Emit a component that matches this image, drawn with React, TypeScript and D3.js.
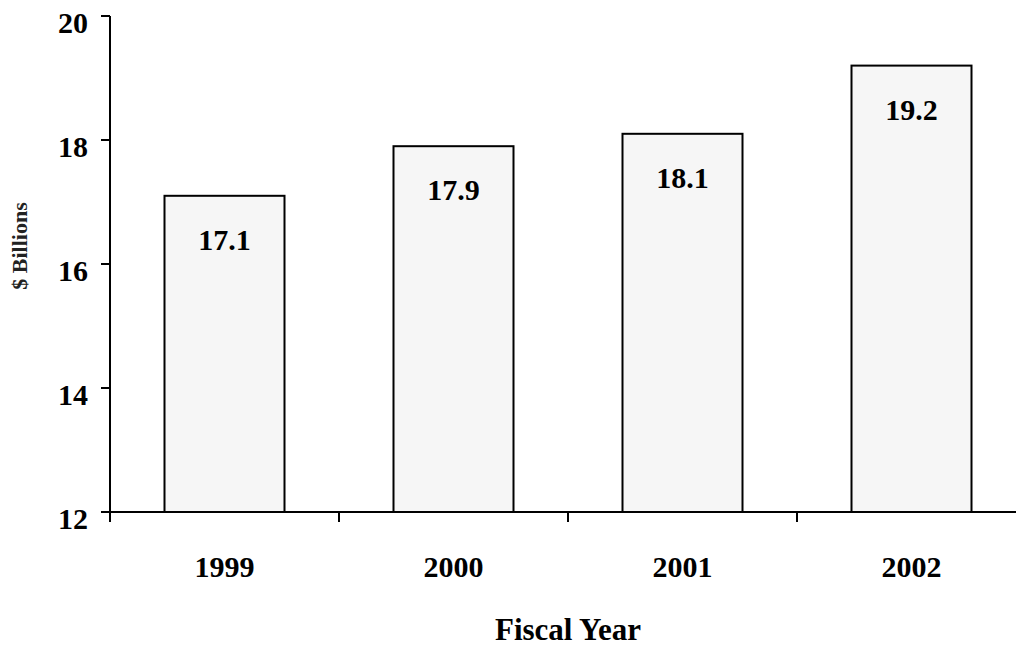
import React from "react";
import * as d3 from "d3";

const years = ["1999", "2000", "2001", "2002"];
const values = [17.1, 17.9, 18.1, 19.2];
const yTicks = [12, 14, 16, 18, 20];

const W = 1016;
const H = 645;
const left = 110;
const right = 1026;
const top = 16;
const bottom = 512;
const font = "'Liberation Serif', 'Times New Roman', serif";

export default function App() {
  const p = 1 - 120 / 229;
  const x = d3.scaleBand<string>().domain(years).range([left, right]).paddingInner(p).paddingOuter(p / 2);
  const step = x.step();
  const y = d3.scaleLinear().domain([12, 20]).range([bottom, top]);
  const tickXs = d3.range(years.length + 1).map((i) => left + i * step);

  return (
    <svg width={W} height={H} style={{ position: "absolute", left: 0, top: 0, background: "#fff" }}>
      {years.map((yr, i) => (
        <rect
          key={yr}
          x={x(yr)!}
          y={y(values[i])}
          width={x.bandwidth()}
          height={bottom - y(values[i])}
          fill="#f6f6f6"
          stroke="#000"
          strokeWidth={2}
        />
      ))}
      {years.map((yr, i) => (
        <text
          key={"v" + yr}
          x={x(yr)! + x.bandwidth() / 2}
          y={y(values[i]) + 54}
          textAnchor="middle"
          fontFamily={font}
          fontWeight="bold"
          fontSize={30}
          fill="#000"
        >
          {values[i].toFixed(1)}
        </text>
      ))}
      {/* y axis */}
      <line x1={left} x2={left} y1={top} y2={bottom} stroke="#000" strokeWidth={2} />
      {yTicks.map((t) => (
        <g key={"yt" + t}>
          <line x1={left - 9} x2={left} y1={y(t)} y2={y(t)} stroke="#000" strokeWidth={2} />
          <text
            x={88}
            y={y(t) + 17}
            textAnchor="end"
            fontFamily={font}
            fontWeight="bold"
            fontSize={30}
            fill="#000"
          >
            {t}
          </text>
        </g>
      ))}
      {/* x axis */}
      <line x1={left - 9} x2={W} y1={bottom} y2={bottom} stroke="#000" strokeWidth={2} />
      {tickXs.map((tx, i) => (
        <line key={"xt" + i} x1={tx} x2={tx} y1={bottom} y2={bottom + 10} stroke="#000" strokeWidth={2} />
      ))}
      {years.map((yr) => (
        <text
          key={"xl" + yr}
          x={x(yr)! + x.bandwidth() / 2}
          y={577}
          textAnchor="middle"
          fontFamily={font}
          fontWeight="bold"
          fontSize={30}
          fill="#000"
        >
          {yr}
        </text>
      ))}
      <text
        x={568}
        y={640}
        textAnchor="middle"
        fontFamily={font}
        fontWeight="bold"
        fontSize={31}
        fill="#000"
      >
        Fiscal Year
      </text>
      <text
        transform={`translate(27,246) rotate(-90)`}
        textAnchor="middle"
        fontFamily={font}
        fontWeight="bold"
        fontSize={22}
        fill="#222"
      >
        $ Billions
      </text>
    </svg>
  );
}
